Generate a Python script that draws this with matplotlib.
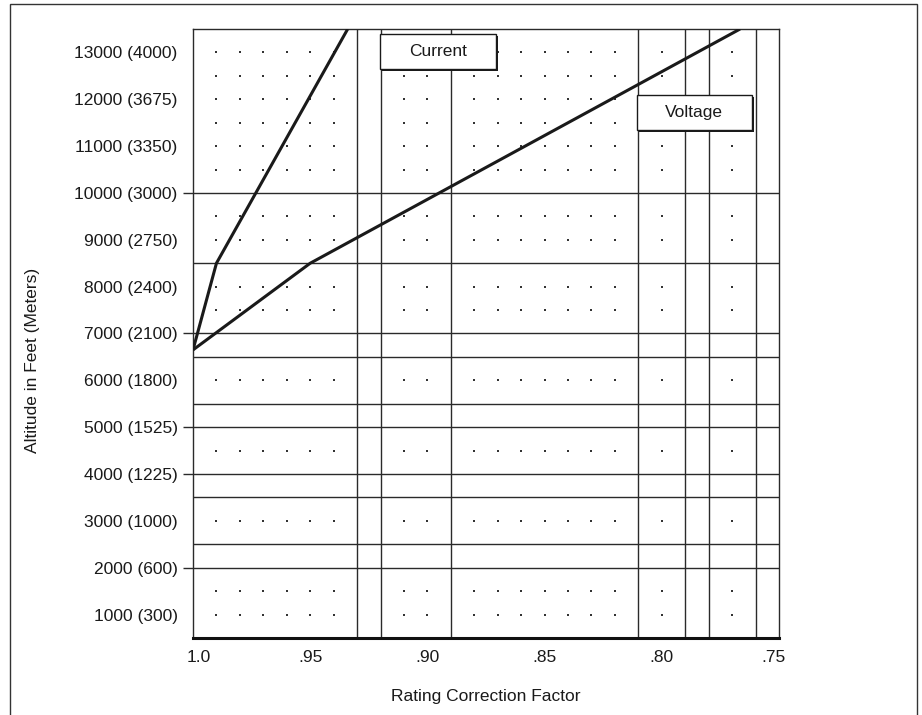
import matplotlib
matplotlib.use("Agg")
import matplotlib.pyplot as plt
from matplotlib.patches import Rectangle
from matplotlib.transforms import ScaledTranslation

plt.rcParams["font.family"] = ["Liberation Sans", "DejaVu Sans"]

# axis ticks
x_ticks = [1.0, 0.95, 0.90, 0.85, 0.80, 0.75]
x_tick_labels = ["1.0", ".95", ".90", ".85", ".80", ".75"]
y_ticks = [1000, 2000, 3000, 4000, 5000, 6000, 7000, 8000, 9000, 10000, 11000, 12000, 13000]
y_tick_labels = ["1000 (300)", "2000 (600)", "3000 (1000)", "4000 (1225)", "5000 (1525)",
                 "6000 (1800)", "7000 (2100)", "8000 (2400)", "9000 (2750)", "10000 (3000)",
                 "11000 (3350)", "12000 (3675)", "13000 (4000)"]
y_long_ticks = [2000, 4000, 5000, 7000, 10000]

# grid lines (irregular, as drawn on the original chart)
v_lines = [0.93, 0.92, 0.89, 0.81, 0.79, 0.78, 0.76]
h_lines = [10000, 8500, 7000, 6500, 5500, 5000, 4000, 3500, 2500, 2000]

# dotted background grid
dot_x = [0.99, 0.98, 0.97, 0.96, 0.95, 0.94, 0.91, 0.90, 0.88, 0.87, 0.86,
         0.85, 0.84, 0.83, 0.82, 0.80, 0.77]
dot_y = [13000, 12500, 12000, 11500, 11000, 10500, 9500, 9000, 8000, 7500,
         6000, 4500, 3000, 1500, 1000]

# derating curves
current_x = [1.0, 0.99, 0.934]
current_y = [6650, 8500, 13500]
voltage_x = [1.0, 0.95, 0.7666]
voltage_y = [6650, 8500, 13500]

fig = plt.figure(figsize=(9.22, 7.15), dpi=100)
ax = fig.add_axes([193 / 922, 1 - 638 / 715, 586 / 922, 609 / 715])

ax.set_xlim(1.0, 0.75)
ax.set_ylim(500, 13500)

grid_color = "#2a2a2a"
for v in v_lines:
    ax.axvline(v, color=grid_color, lw=1.0, zorder=1)
for h in h_lines:
    ax.axhline(h, color=grid_color, lw=1.0, zorder=1)

gx = [x for x in dot_x for _ in dot_y]
gy = [y for _ in dot_x for y in dot_y]
ax.scatter(gx, gy, s=1.5, marker="s", color="#333333", linewidths=0, zorder=1)

ax.plot(current_x, current_y, color="#1a1a1a", lw=2.2, zorder=3, solid_capstyle="butt")
ax.plot(voltage_x, voltage_y, color="#1a1a1a", lw=2.2, zorder=3, solid_capstyle="butt")

# ticks and labels
ax.set_xticks(x_ticks)
ax.set_xticklabels(x_tick_labels)
ax.set_yticks(y_ticks)
ax.set_yticklabels(y_tick_labels)
ax.yaxis.remove_overlapping_locs = False
ax.set_yticks(y_long_ticks, minor=True)
ax.tick_params(axis="x", length=0, pad=9, labelsize=12.5, colors="#1a1a1a")
ax.tick_params(axis="y", which="major", length=0, pad=11, labelsize=12.5, colors="#1a1a1a")
ax.tick_params(axis="y", which="minor", length=7.5, width=1.0, color=grid_color)
ax.tick_params(axis="x", which="minor", length=0)

# end labels sit slightly inside the axis ends
xlabels = ax.get_xticklabels()
xlabels[0].set_transform(xlabels[0].get_transform() + ScaledTranslation(6 / 100, 0, fig.dpi_scale_trans))
xlabels[-1].set_transform(xlabels[-1].get_transform() + ScaledTranslation(-6 / 100, 0, fig.dpi_scale_trans))

for side in ["left", "top", "right"]:
    ax.spines[side].set_linewidth(1.0)
    ax.spines[side].set_color("#2a2a2a")
ax.spines["bottom"].set_linewidth(2.2)
ax.spines["bottom"].set_color("#111111")

fig.text(486 / 922, 1 - 697 / 715, "Rating Correction Factor", ha="center", va="center",
         fontsize=12.5, color="#1a1a1a")
fig.text(32 / 922, 1 - 360 / 715, "Altitude in Feet (Meters)", ha="center", va="center",
         rotation=90, fontsize=12.5, color="#1a1a1a")


def label_box(x0, y0, x1, y1, text):
    dx, dy = 2 / 586, 2 / 609
    shadow = Rectangle((x0 + dx, y0 - dy), x1 - x0, y1 - y0, transform=ax.transAxes,
                       facecolor="#1a1a1a", edgecolor="none", zorder=4, clip_on=False)
    box = Rectangle((x0, y0), x1 - x0, y1 - y0, transform=ax.transAxes,
                    facecolor="white", edgecolor="#1a1a1a", lw=1.0, zorder=5, clip_on=False)
    ax.add_patch(shadow)
    ax.add_patch(box)
    ax.text((x0 + x1) / 2, (y0 + y1) / 2, text, transform=ax.transAxes, ha="center",
            va="center", fontsize=12.5, color="#1a1a1a", zorder=6)


label_box(0.319, 0.935, 0.517, 0.992, "Current")
label_box(0.757, 0.834, 0.954, 0.891, "Voltage")

# outer frame around the whole figure
frame = Rectangle((10 / 922, -0.02), 907 / 922, 1.02 - 4 / 715, transform=fig.transFigure,
                  facecolor="none", edgecolor="#333333", lw=1.0)
fig.patches.append(frame)

fig.savefig("out.png", dpi=100)
